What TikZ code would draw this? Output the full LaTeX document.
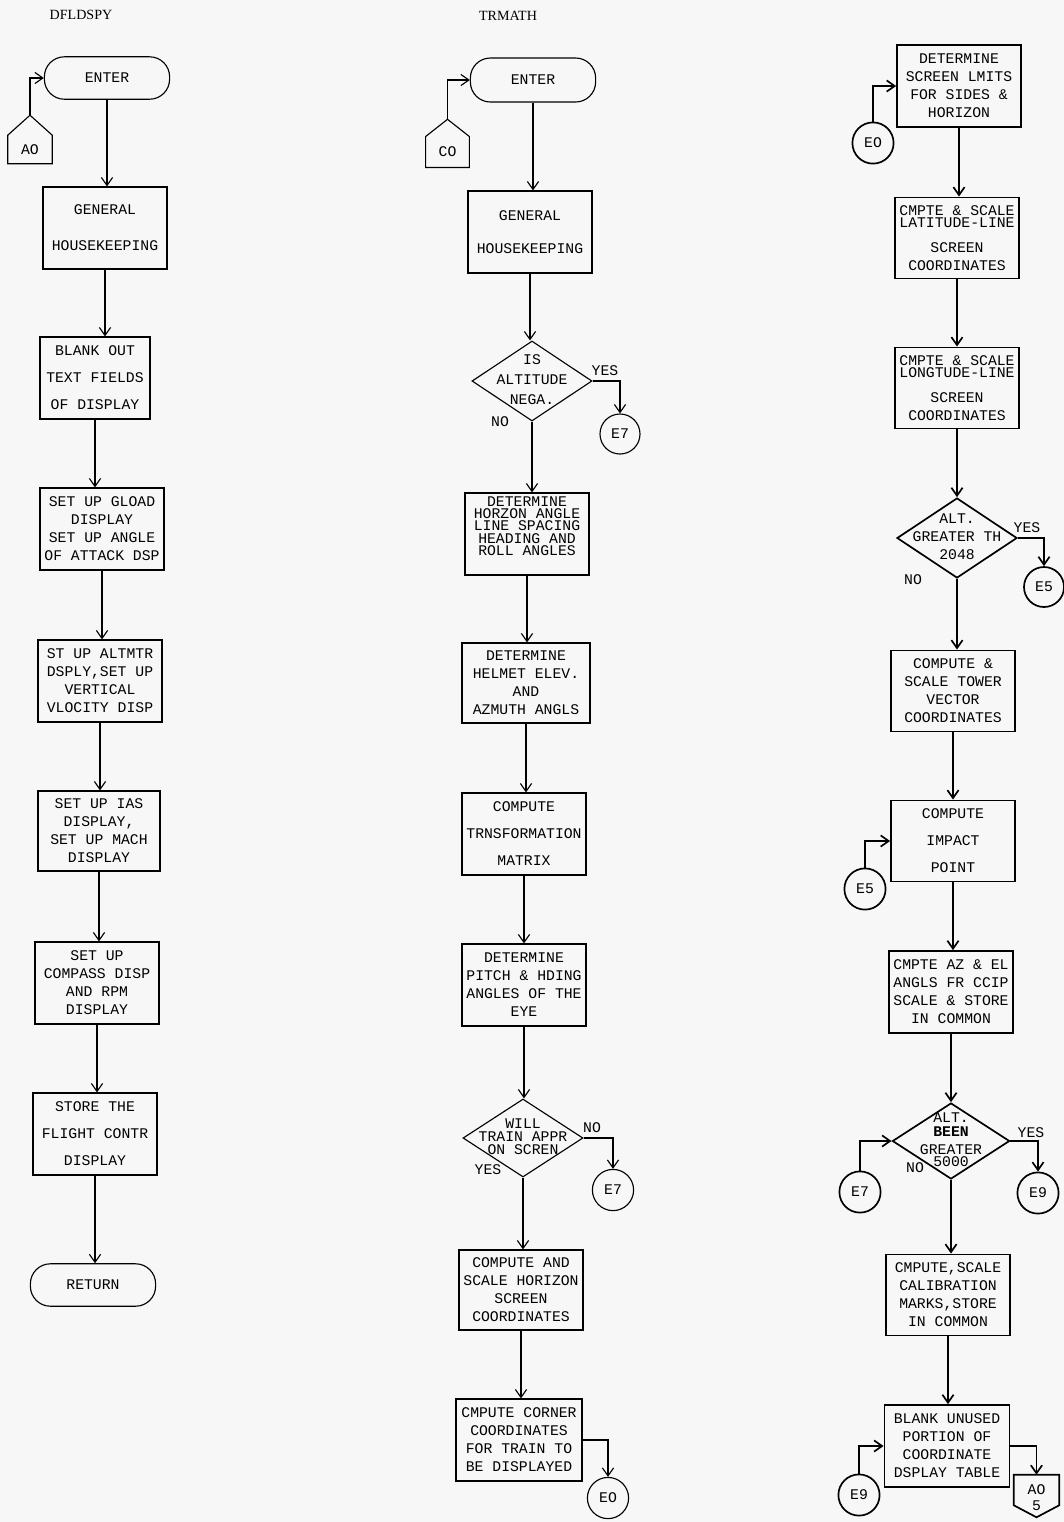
\documentclass[tikz,border=0pt]{standalone}
\usepackage{fontspec}
\setmainfont{Liberation Serif}
\setmonofont{Liberation Mono}
\usetikzlibrary{positioning, arrows.meta, shapes.geometric, calc}

% text of a decision box, taking no room of its own
\newcommand{\dtext}[1]{\makebox[0pt]{\raisebox{-0.25em}[0pt][0pt]{\begin{tabular}{@{}c@{}}#1\end{tabular}}}}

\begin{document}
\begin{tikzpicture}[
    x=0.025cm, y=-0.025cm,
    proc/.style={draw=black, line width=0.8pt, align=center, inner sep=2pt, minimum width=3.1cm, minimum height=2.05cm, font=\ttfamily\fontsize{10.5}{12.8}\selectfont},
    term/.style={draw=black, line width=0.8pt, rounded corners=0.5cm, minimum width=3.13cm, minimum height=1.06cm, font=\ttfamily\fontsize{10.5}{12.8}\selectfont},
    decide/.style={diamond, draw=black, line width=0.8pt, inner sep=0pt, minimum width=3cm, minimum height=2cm, font=\ttfamily\fontsize{10.5}{12.8}\selectfont},
    conn/.style={circle, draw=black, line width=0.8pt, inner sep=0pt, minimum size=1.03cm, font=\ttfamily\fontsize{10.5}{12.8}\selectfont},
    offpage/.style={inner sep=0pt, minimum width=1.1cm, minimum height=0.7cm, font=\ttfamily\fontsize{10.5}{12.8}\selectfont},
    lbl/.style={inner sep=1pt, font=\ttfamily\fontsize{10.5}{12.8}\selectfont},
    heading/.style={font=\fontsize{10}{11}\selectfont},
    arrow/.style={-{Straight Barb[length=2mm, width=2.8mm]}, line width=0.8pt},
    heavy/.style={line width=1.2pt}
]

\fill[black!3] (0,0) rectangle (1064,1522);
\useasboundingbox (0,0) rectangle (1064,1522);

% ================= DFLDSPY =================
\node[heading] (titleA) at (81,15) {DFLDSPY};
\node[term] (enterA) at (107,78) {ENTER};
\node[offpage] (aoA) at (30,149.5) {AO};
\coordinate (aoAtip) at ([yshift=0.5cm]aoA.north);
\draw[line width=0.8pt] (aoA.north west) -- (aoA.south west) -- (aoA.south east) -- (aoA.north east) -- (aoAtip) -- cycle;

\node[proc] (genA) at (105,228) {GENERAL\\[12.8pt]HOUSEKEEPING};
\node[proc, minimum width=2.75cm] (blankA) at (95,378) {BLANK OUT\\[6.4pt]TEXT FIELDS\\[6.4pt]OF DISPLAY};
\node[proc] (gloadA) at (102,529) {SET UP GLOAD\\DISPLAY\\SET UP ANGLE\\OF ATTACK DSP};
\node[proc] (altmA) at (100,681) {ST UP ALTMTR\\DSPLY,SET UP\\VERTICAL\\VLOCITY DISP};
\node[proc, minimum width=3.05cm, minimum height=2cm] (iasA) at (99,831) {SET UP IAS\\DISPLAY,\\SET UP MACH\\DISPLAY};
\node[proc] (compA) at (97,983) {SET UP\\COMPASS DISP\\AND RPM\\DISPLAY};
\node[proc] (storeA) at (95,1134) {STORE THE\\[6.4pt]FLIGHT CONTR\\[6.4pt]DISPLAY};
\node[term] (retA) at (93,1285) {RETURN};

\draw[arrow] (aoAtip) |- (enterA.west);
\draw[arrow] (enterA.south) -- (enterA.south |- genA.north);
\draw[arrow] (genA.south) -- (genA.south |- blankA.north);
\draw[arrow] (blankA.south) -- (blankA.south |- gloadA.north);
\draw[arrow] (gloadA.south) -- (gloadA.south |- altmA.north);
\draw[arrow] (altmA.south) -- (altmA.south |- iasA.north);
\draw[arrow] (iasA.south) -- (iasA.south |- compA.north);
\draw[arrow] (compA.south) -- (compA.south |- storeA.north);
\draw[arrow] (storeA.south) -- (storeA.south |- retA.north);

% ================= TRMATH =================
\node[heading] (titleB) at (508,16) {TRMATH};
\node[term, minimum height=1.1cm] (enterB) at (533,80) {ENTER};
\node[offpage, minimum width=1.08cm, minimum height=0.76cm] (coB) at (447.5,152) {CO};
\coordinate (coBtip) at ([yshift=0.43cm]coB.north);
\draw[line width=0.8pt] (coB.north west) -- (coB.south west) -- (coB.south east) -- (coB.north east) -- (coBtip) -- cycle;

\node[proc] (genB) at (530,232) {GENERAL\\[11pt]HOUSEKEEPING};
\node[decide] (isB) at (532,381) {\dtext{IS\\[1.3pt]ALTITUDE\\[1.3pt]NEGA.}};
\node[conn, minimum size=1cm] (e7B) at (620,434) {E7};
\node[lbl] (yesB) at (605,371) {YES};
\node[lbl] (noB) at (500,422) {NO};

\node[proc, text height=42pt, text depth=12pt, font=\ttfamily\fontsize{10.5}{8.6}\selectfont] (horzB) at (527,534) {DETERMINE\\HORZON ANGLE\\LINE SPACING\\HEADING AND\\ROLL ANGLES};
\node[proc, minimum width=3.2cm, minimum height=2cm] (helmB) at (526,683) {DETERMINE\\HELMET ELEV.\\AND\\AZMUTH ANGLS};
\node[proc] (trnsB) at (524,834) {COMPUTE\\[6.4pt]TRNSFORMATION\\[6.4pt]MATRIX};
\node[proc] (pitchB) at (524,985) {DETERMINE\\PITCH \& HDING\\ANGLES OF THE\\EYE};
\node[decide, minimum height=1.95cm] (willB) at (523,1138) {\dtext{WILL\\[-3.5pt]TRAIN APPR\\[-3.5pt]ON SCREN}};
\node[conn] (e7C) at (613,1190) {E7};
\node[lbl] (noC) at (592,1128) {NO};
\node[lbl] (yesC) at (488,1170) {YES};
\node[proc, minimum height=2cm] (horB) at (521,1290) {COMPUTE AND\\SCALE HORIZON\\SCREEN\\COORDINATES};
\node[proc, minimum width=3.15cm] (cornB) at (519,1440) {CMPUTE CORNER\\COORDINATES\\FOR TRAIN TO\\BE DISPLAYED};
\node[conn] (eoB) at (608,1498) {EO};

\draw[arrow] (coBtip) |- (enterB.west);
\draw[arrow] (enterB.south) -- (enterB.south |- genB.north);
\draw[arrow] (genB.south) -- (genB.south |- isB.north);
\draw[arrow] (isB.east) -| (e7B.north);
\draw[arrow] (isB.south) -- (isB.south |- horzB.north);
\draw[arrow] (horzB.south) -- (horzB.south |- helmB.north);
\draw[arrow] (helmB.south) -- (helmB.south |- trnsB.north);
\draw[arrow] (trnsB.south) -- (trnsB.south |- pitchB.north);
\draw[arrow] (pitchB.south) -- (pitchB.south |- willB.north);
\draw[arrow] (willB.east) -| (e7C.north);
\draw[arrow] (willB.south) -- (willB.south |- horB.north);
\draw[arrow] (horB.south) -- (horB.south |- cornB.north);
\draw[arrow] (cornB.east) -| (eoB.north);

% ================= third column =================
\node[proc, heavy] (limC) at (959,86) {DETERMINE\\SCREEN LMITS\\FOR SIDES \&\\HORIZON};
\node[conn, heavy] (eoC) at (873,143) {EO};
\node[proc, heavy, minimum height=2.03cm] (latC) at (957,238) {CMPTE \& SCALE\\[-3.6pt]LATITUDE-LINE\\[4.8pt]SCREEN\\COORDINATES};
\node[proc, heavy, minimum height=2.03cm] (lonC) at (957,388) {CMPTE \& SCALE\\[-3.6pt]LONGTUDE-LINE\\[4.8pt]SCREEN\\COORDINATES};
\node[decide, heavy] (altC) at (957,538) {\dtext{ALT.\\GREATER TH\\2048}};
\node[lbl] (yesD) at (1027,528) {YES};
\node[lbl] (noD) at (913,580) {NO};
\node[conn, heavy, minimum size=1cm] (e5C) at (1044,587) {E5};
\node[proc, heavy, minimum height=2.03cm] (towC) at (953,691) {COMPUTE \&\\SCALE TOWER\\VECTOR\\COORDINATES};
\node[proc, heavy, minimum height=2.03cm] (impC) at (953,841) {COMPUTE\\[6.4pt]IMPACT\\[6.4pt]POINT};
\node[conn, heavy] (e5D) at (865,889) {E5};
\node[proc, heavy] (azC) at (951,992) {CMPTE AZ \& EL\\ANGLS FR CCIP\\SCALE \& STORE\\IN COMMON};
\node[decide, heavy, minimum width=2.93cm, minimum height=1.9cm] (beenC) at (951,1141) {\dtext{ALT.\\[-2.8pt]\textbf{BEEN}\\GREATER\\[-4pt]5000}};
\node[lbl] (yesE) at (1031,1133) {YES};
\node[lbl] (noE) at (915,1168) {NO};
\node[conn, heavy] (e7D) at (860,1192) {E7};
\node[conn, heavy] (e9C) at (1038,1193) {E9};
\node[proc, heavy, minimum height=2.03cm] (calC) at (948,1295) {CMPUTE,SCALE\\CALIBRATION\\MARKS,STORE\\IN COMMON};
\node[proc, heavy, minimum width=3.13cm] (blkC) at (947,1446) {BLANK UNUSED\\PORTION OF\\COORDINATE\\DSPLAY TABLE};
\node[conn, heavy] (e9D) at (859,1495) {E9};
\node[offpage, minimum width=1.12cm, minimum height=0.75cm, label={[lbl, inner sep=0pt, yshift=0.12cm]below:5}] (ao5C) at (1036.5,1490) {AO};
\coordinate (ao5Ctip) at ([yshift=-0.3cm]ao5C.south);
\draw[heavy] (ao5C.north west) -- (ao5C.south west) -- (ao5Ctip) -- (ao5C.south east) -- (ao5C.north east) -- cycle;

\draw[arrow, heavy] (eoC.north) |- (limC.west);
\draw[arrow, heavy] (limC.south) -- (limC.south |- latC.north);
\draw[arrow, heavy] (latC.south) -- (latC.south |- lonC.north);
\draw[arrow, heavy] (lonC.south) -- (lonC.south |- altC.north);
\draw[arrow, heavy] (altC.east) -| (e5C.north);
\draw[arrow, heavy] (altC.south) -- (altC.south |- towC.north);
\draw[arrow, heavy] (towC.south) -- (towC.south |- impC.north);
\draw[arrow, heavy] (e5D.north) |- (impC.west);
\draw[arrow, heavy] (impC.south) -- (impC.south |- azC.north);
\draw[arrow, heavy] (azC.south) -- (azC.south |- beenC.north);
\draw[arrow, heavy] (e7D.north) |- (beenC.west);
\draw[arrow, heavy] (beenC.east) -| (e9C.north);
\draw[arrow, heavy] (beenC.south) -- (beenC.south |- calC.north);
\draw[arrow, heavy] (calC.south) -- (calC.south |- blkC.north);
\draw[arrow, heavy] (e9D.north) |- (blkC.west);
\draw[arrow, heavy] (blkC.east) -| (ao5C.north);

\end{tikzpicture}
\end{document}
